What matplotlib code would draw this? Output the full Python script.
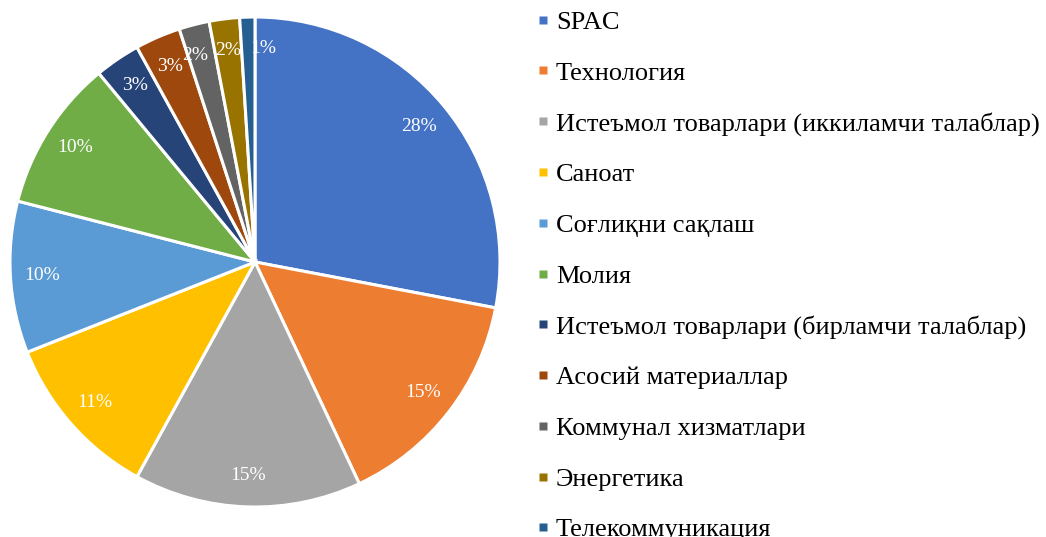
import matplotlib.pyplot as plt
from matplotlib.lines import Line2D

plt.rcParams['font.family'] = ['Liberation Serif', 'DejaVu Serif']

sectors = ["SPAC", "Технология", "Истеъмол товарлари (иккиламчи талаблар)", "Саноат",
           "Соғлиқни сақлаш", "Молия", "Истеъмол товарлари (бирламчи талаблар)",
           "Асосий материаллар", "Коммунал хизматлари", "Энергетика", "Телекоммуникация"]
shares = [28, 15, 15, 11, 10, 10, 3, 3, 2, 2, 1]
colors = ["#4472C4", "#ED7D31", "#A5A5A5", "#FFC000", "#5B9BD5", "#70AD47",
          "#264478", "#9E480E", "#636363", "#997300", "#255E91"]

fig = plt.figure(figsize=(10.46, 5.37), dpi=100)
ax = fig.add_axes([10 / 1046, 30 / 537, 490 / 1046, 490 / 537])

wedges, texts, autotexts = ax.pie(shares, colors=colors, startangle=90, counterclock=False,
                                  autopct='%1.0f%%', pctdistance=0.87,
                                  wedgeprops=dict(edgecolor='white', linewidth=2.2),
                                  textprops=dict(color='white', fontsize=14))
ax.set_xlim(-1, 1)
ax.set_ylim(-1, 1)
ax.set_aspect('equal')

# small labels at the top are crowded, nudge them apart like Excel does
for t, dx in zip(autotexts[-3:], [-0.03, 0.0, 0.06]):
    x, y = t.get_position()
    t.set_position((x + dx, y))

handles = [Line2D([], [], linestyle='none', marker='s', markersize=6.3,
                  markerfacecolor=c, markeredgecolor='none') for c in colors]
fig.legend(handles, sectors, loc='upper left', bbox_to_anchor=(527 / 1046, 1),
           frameon=False, fontsize=19, handlelength=0.4, handletextpad=0.3,
           labelspacing=1.03, borderaxespad=0)

fig.savefig("out.png", dpi=100)
